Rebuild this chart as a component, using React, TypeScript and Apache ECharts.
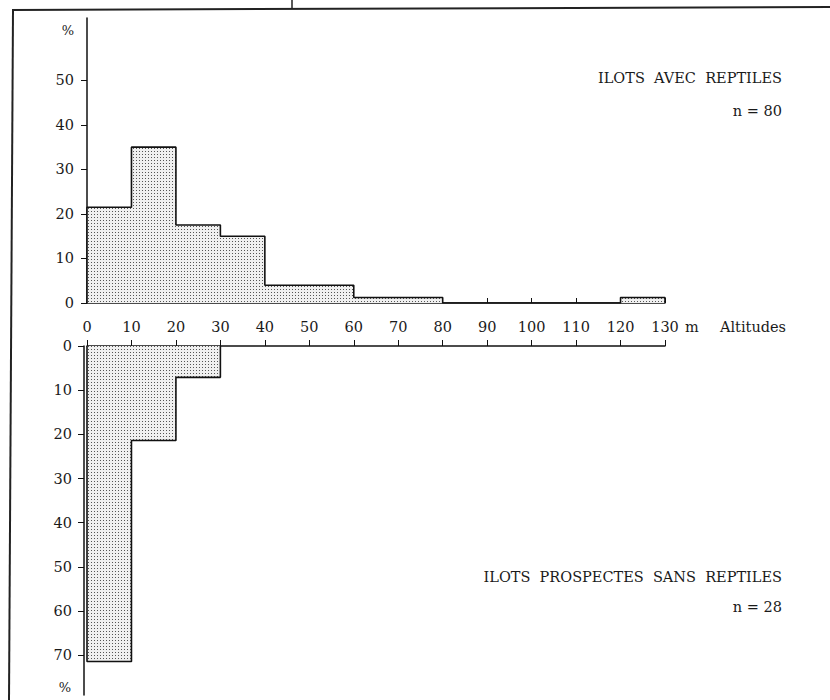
import React, { useEffect, useRef } from "react";
import * as echarts from "echarts";

// Altitude bins (m)
const topEdges = [0, 10, 20, 30, 40, 60, 80, 120, 130];
const topPct = [21.5, 35, 17.5, 15, 4, 1.25, 0, 1.25];
const bottomEdges = [0, 10, 20, 30];
const bottomPct = [71.4, 21.4, 7.1];

const xTicks = [0, 10, 20, 30, 40, 50, 60, 70, 80, 90, 100, 110, 120, 130];
const topYTicks = [0, 10, 20, 30, 40, 50];
const bottomYTicks = [0, 10, 20, 30, 40, 50, 60, 70];

const topTitle = "ILOTS  AVEC  REPTILES";
const topN = "n = 80";
const bottomTitle = "ILOTS  PROSPECTES  SANS  REPTILES";
const bottomN = "n = 28";

function outline(edges: number[], vals: number[]) {
  const pts: number[][] = [[edges[0], 0]];
  vals.forEach((v, i) => {
    pts.push([edges[i], v]);
    pts.push([edges[i + 1], v]);
  });
  pts.push([edges[edges.length - 1], 0]);
  return pts;
}

const FONT = "DejaVu Serif";
const INK = "#1a1a1a";
const FS = 14.5;

export default function App() {
  const ref = useRef<HTMLDivElement>(null);
  useEffect(() => {
    if (!ref.current) return;
    const cv = document.createElement("canvas");
    cv.width = 3;
    cv.height = 3;
    const ctx = cv.getContext("2d")!;
    ctx.fillStyle = "#f0f0f0";
    ctx.fillRect(0, 0, 3, 3);
    ctx.fillStyle = "#555";
    ctx.fillRect(1, 1, 1, 1);
    const pattern: any = { image: cv, repeat: "repeat" };

    const chart = echarts.init(ref.current, null, { renderer: "svg" });
    const axisLabelStyle = { fontFamily: FONT, fontSize: FS, color: INK };
    const lineStyle = { color: "#111", width: 1.5 };
    const txt = (x: number, y: number, text: string, align: string, size = FS) => ({
      type: "text",
      x,
      y,
      style: { text, font: `${size}px "${FONT}"`, fill: INK, align, verticalAlign: "middle" },
    });
    chart.setOption({
      animation: false,
      backgroundColor: "#fff",
      grid: [
        { left: 87, top: 18, width: 578, height: 285 },
        { left: 87, top: 346, width: 578, height: 349 },
      ],
      xAxis: [
        {
          gridIndex: 0,
          type: "value",
          min: 0,
          max: 130,
          interval: 10,
          position: "bottom",
          axisLine: { show: true, onZero: false, lineStyle },
          axisTick: { show: true, inside: true, length: 5, lineStyle: { color: "#111" } },
          axisLabel: { ...axisLabelStyle, margin: 16, customValues: xTicks },
          splitLine: { show: false },
        },
        {
          gridIndex: 1,
          type: "value",
          min: 0,
          max: 130,
          interval: 10,
          position: "top",
          axisLine: { show: true, onZero: false, lineStyle },
          axisTick: { show: true, length: 6, lineStyle: { color: "#111" } },
          axisLabel: { show: false },
          splitLine: { show: false },
        },
      ],
      yAxis: [
        {
          gridIndex: 0,
          type: "value",
          min: 0,
          max: 64,
          interval: 10,
          axisLine: { show: true, onZero: false, lineStyle },
          axisTick: { show: true, length: 6, customValues: topYTicks, lineStyle: { color: "#111" } },
          axisLabel: { ...axisLabelStyle, margin: 13, customValues: topYTicks },
          splitLine: { show: false },
        },
        {
          gridIndex: 1,
          type: "value",
          min: 0,
          max: 79,
          interval: 10,
          inverse: true,
          offset: 3,
          axisLine: { show: true, onZero: false, lineStyle },
          axisTick: { show: true, length: 6, customValues: bottomYTicks, lineStyle: { color: "#111" } },
          axisLabel: { ...axisLabelStyle, margin: 12, customValues: bottomYTicks },
          splitLine: { show: false },
        },
      ],
      series: [
        {
          type: "line",
          xAxisIndex: 0,
          yAxisIndex: 0,
          data: outline(topEdges, topPct),
          symbol: "none",
          lineStyle: { color: "#111", width: 1.6 },
          areaStyle: { color: pattern, opacity: 1 },
          z: 1,
        },
        {
          type: "line",
          xAxisIndex: 1,
          yAxisIndex: 1,
          data: outline(bottomEdges, bottomPct),
          symbol: "none",
          lineStyle: { color: "#111", width: 1.6 },
          areaStyle: { color: pattern, opacity: 1 },
          z: 1,
        },
      ],
      graphic: [
        { type: "line", shape: { x1: 12, y1: 10, x2: 830, y2: 7 }, style: { stroke: "#222", lineWidth: 2 } },
        { type: "line", shape: { x1: 13, y1: 10, x2: 9, y2: 700 }, style: { stroke: "#222", lineWidth: 2 } },
        { type: "line", shape: { x1: 292, y1: 0, x2: 292, y2: 9 }, style: { stroke: "#222", lineWidth: 1.5 } },
        txt(68, 30, "%", "center", 13),
        txt(65, 687, "%", "center", 13),
        txt(685, 327, "m", "left"),
        txt(720, 327, "Altitudes", "left"),
        txt(782, 78, topTitle, "right"),
        txt(782, 111, topN, "right"),
        txt(782, 577, bottomTitle, "right"),
        txt(782, 607, bottomN, "right"),
      ],
    });
    return () => chart.dispose();
  }, []);
  return (
    <div
      ref={ref}
      style={{ position: "fixed", left: 0, top: 0, width: 830, height: 700, background: "#fff" }}
    />
  );
}
